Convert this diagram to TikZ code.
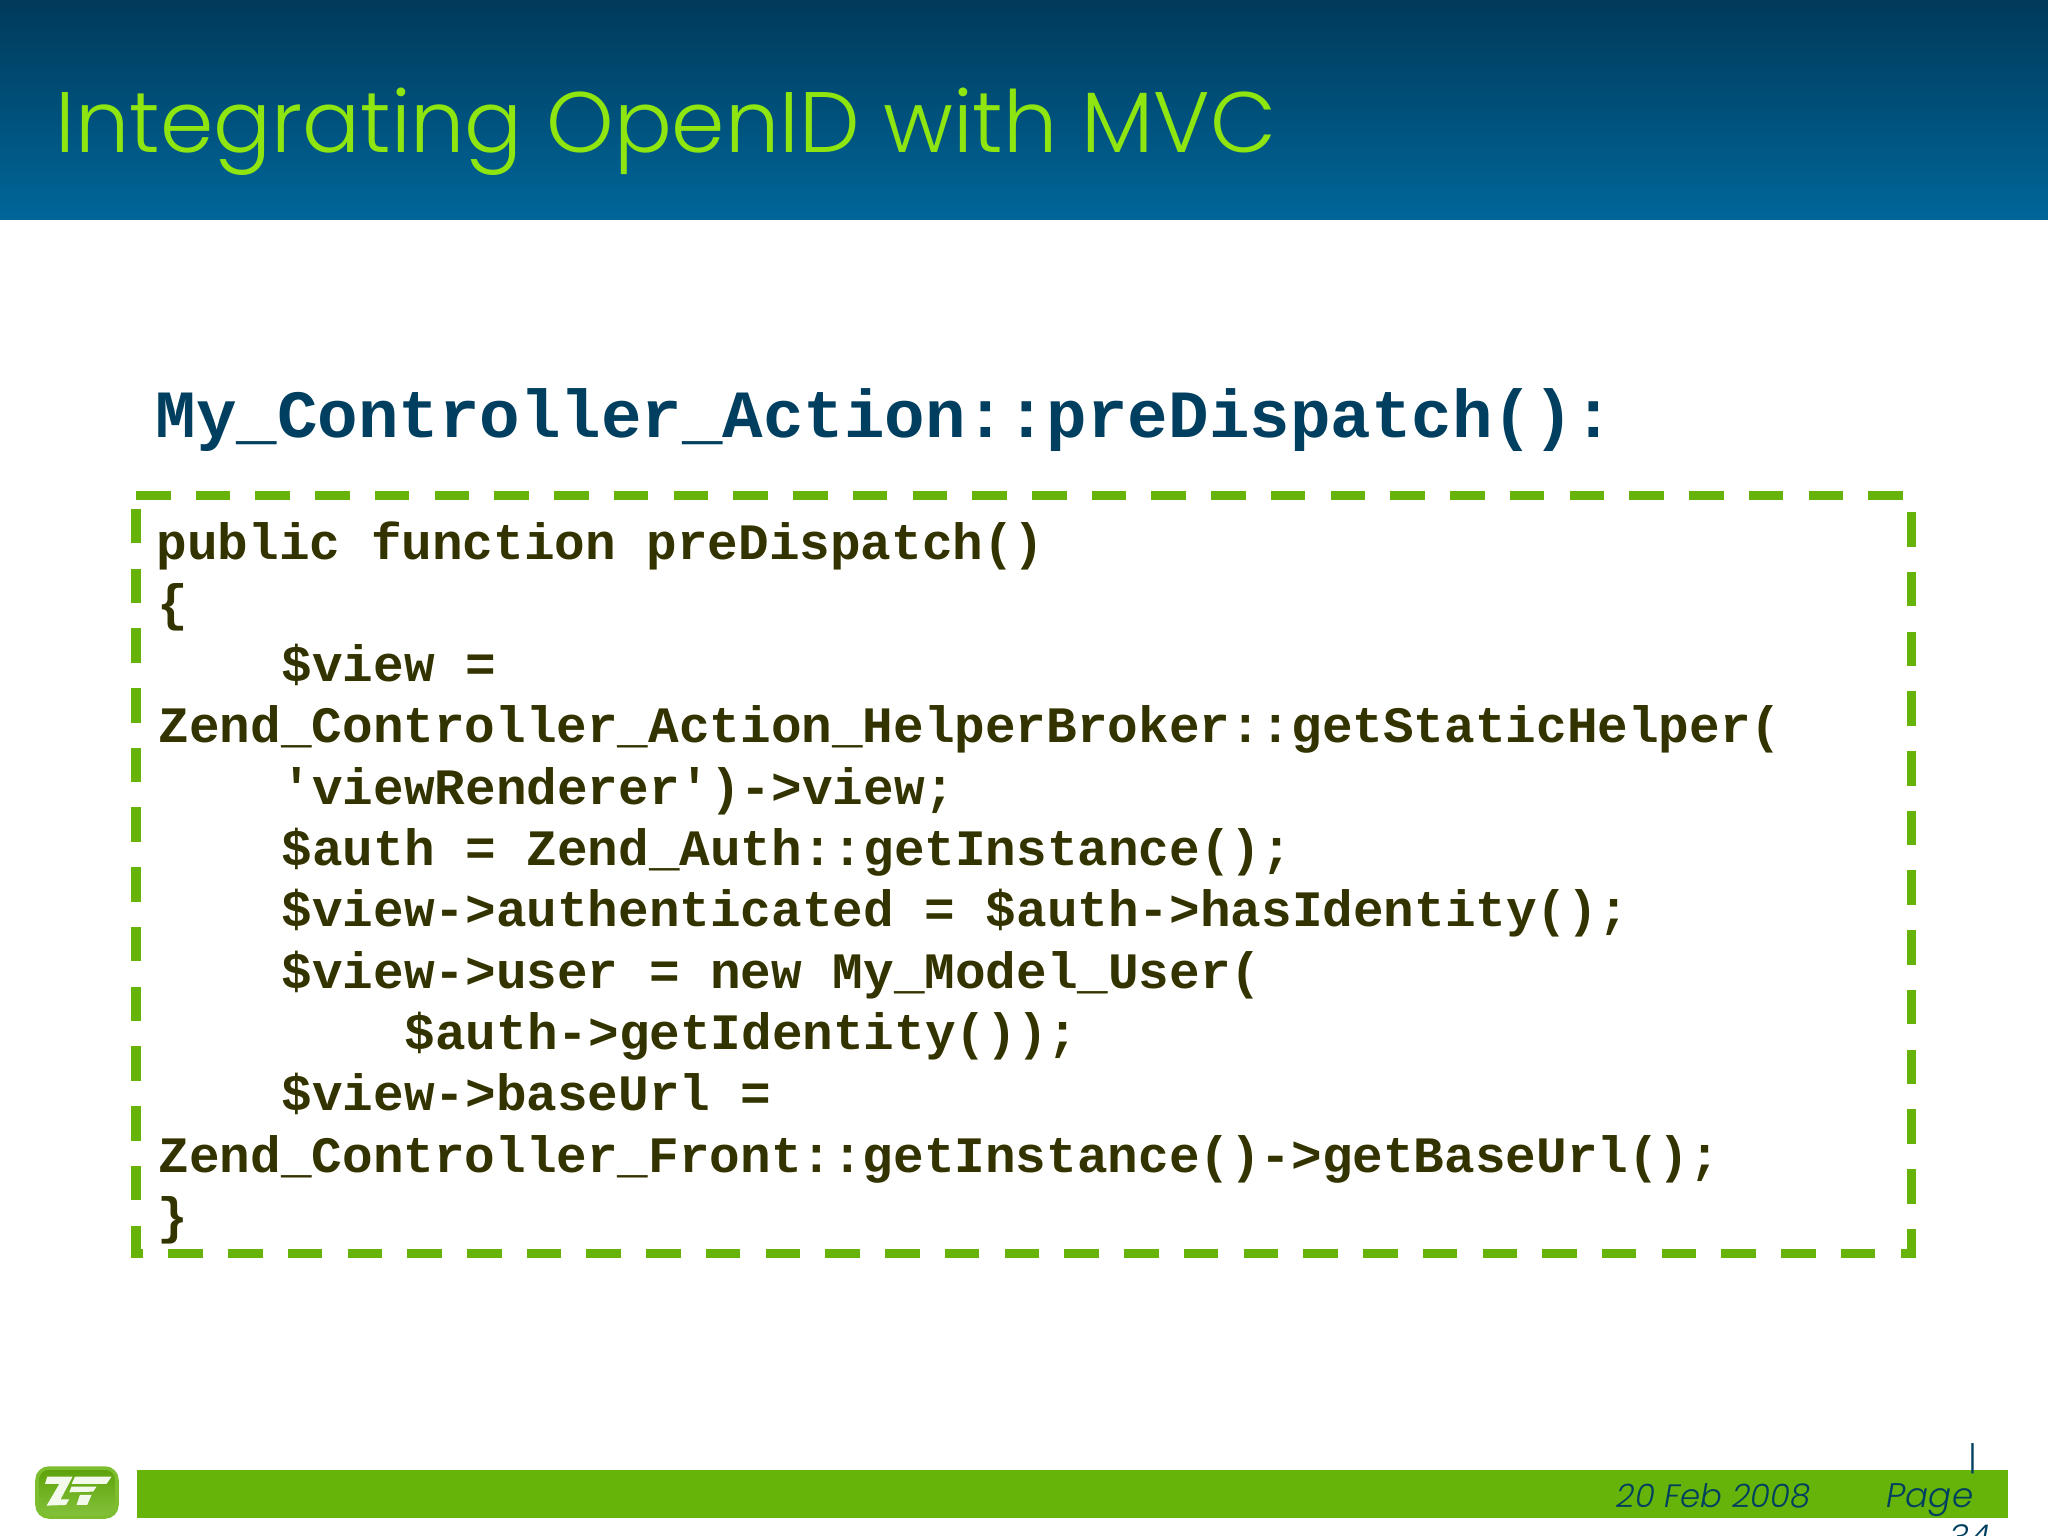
\documentclass[tikz,border=0pt]{standalone}
\usepackage{fontspec}
\setmainfont{Poppins}
\newfontfamily\codefont{Liberation Mono}
\newfontfamily\thinfont{Poppins Light}
\definecolor{zgreen}{HTML}{66B30A}
\definecolor{zblue}{HTML}{003F5F}
\definecolor{zcode}{HTML}{333300}
\definecolor{ztitle}{HTML}{8EE510}
\definecolor{ztop}{HTML}{003A5B}
\definecolor{zbottom}{HTML}{006699}
\tikzset{
  titletext/.style={anchor=base west,inner sep=0pt,text=ztitle,font=\thinfont\fontsize{24.4}{30}\selectfont},
  headtext/.style={anchor=base west,inner sep=0pt,text=zblue,font=\codefont\bfseries\fontsize{19.2}{23}\selectfont},
  codeline/.style={anchor=base west,inner sep=0pt,text=zcode,font=\codefont\bfseries\fontsize{14.51}{17}\selectfont},
  foottext/.style={anchor=base west,inner sep=0pt,text=zblue,font=\thinfont\itshape\fontsize{9.2}{12}\selectfont},
  pagetext/.style={foottext,font=\thinfont\itshape\fontsize{9.7}{12}\selectfont},
}
\begin{document}
\begin{tikzpicture}[x=0.01cm,y=-0.01cm]
\useasboundingbox (0,0) rectangle (2048,1536);
\fill[white] (0,0) rectangle (2048,1536);
% header band
\shade[top color=ztop,bottom color=zbottom] (0,0) rectangle (2048,219);
\node[titletext] (title) at (55,152) {Integrating OpenID with MVC};
\node[headtext] (head) at (155,437) {My\_Controller\_Action::preDispatch():};
% dashed box
\draw[zgreen,line width=0.09cm,dash pattern=on 0.345cm off 0.252cm] (136,495) -- (1911,495) -- (1911,1253) -- (136,1253) -- cycle;
% code
\node[codeline] (l0) at (156,559) {public function preDispatch()};
\node[codeline] (l1) at (157,620.3) {\{};
\node[codeline] (l2) at (281,681.6) {\$view =};
\node[codeline] (l3) at (158,742.9) {Zend\_Controller\_Action\_HelperBroker::getStaticHelper(};
\node[codeline] (l4) at (281,804.2) {'viewRenderer')->view;};
\node[codeline] (l5) at (281,865.5) {\$auth = Zend\_Auth::getInstance();};
\node[codeline] (l6) at (281,926.8) {\$view->authenticated = \$auth->hasIdentity();};
\node[codeline] (l7) at (281,988.1) {\$view->user = new My\_Model\_User(};
\node[codeline] (l8) at (404,1049.4) {\$auth->getIdentity());};
\node[codeline] (l9) at (281,1110.7) {\$view->baseUrl =};
\node[codeline] (l10) at (158,1172) {Zend\_Controller\_Front::getInstance()->getBaseUrl();};
\node[codeline] (l11) at (157,1233.3) {\}};
% footer
\fill[zgreen] (137,1470) rectangle (2008,1518);
\node[foottext] (date) at (1616,1507) {20 Feb 2008};
\node[pagetext] (page) at (1886,1507) {Page};
\node[pagetext] (sep) at (1968,1470) {\upshape |};
\node[pagetext] (num) at (1949,1549) {34};
% logo
\shade[draw=zgreen!85!white,line width=1pt,rounded corners=1.2mm,top color=zgreen!90!black,bottom color=zgreen!80!white] (37,1468) rectangle (117,1517);
\begin{scope}[shift={(30,1460)},x=0.00333cm,y=-0.00333cm]
\fill[white!92!zgreen] (52,50) -- (128,50) -- (92,118) -- (118,118) -- (108,135) -- (50,137) -- (88,72) -- (45,72) -- cycle;
\fill[white!92!zgreen] (135,50) -- (245,50) -- (230,72) -- (125,72) -- cycle;
\fill[white!92!zgreen] (125,80) -- (200,80) -- (190,95) -- (118,97) -- cycle;
\fill[white!92!zgreen] (150,105) -- (185,105) -- (172,135) -- (140,135) -- cycle;
\end{scope}
\end{tikzpicture}
\end{document}
